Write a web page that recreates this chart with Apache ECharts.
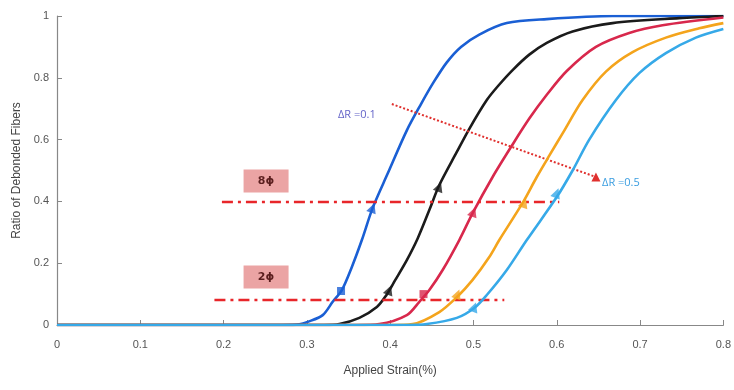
<!DOCTYPE html>
<html><head><meta charset="utf-8">
<script src="https://cdn.jsdelivr.net/npm/echarts@6/dist/echarts.min.js"></script>
<style>html,body{margin:0;padding:0;background:#fff}#c{width:734px;height:390px}</style>
</head><body><div id="c"></div>
<script>
const seriesNames = ['ΔR=0.1','ΔR=0.2','ΔR=0.3','ΔR=0.4','ΔR=0.5'];
const colors = ['#1a5fd4','#1b1b1b','#d8284c','#f4a41c','#36a9e8'];
const curveBlue = [[0,0],[0.27,0],[0.291,0.002],[0.301,0.01],[0.319,0.032],[0.331,0.075],[0.342,0.113],[0.354,0.188],[0.366,0.275],[0.379,0.379],[0.397,0.49],[0.42,0.63],[0.437,0.715],[0.452,0.785],[0.468,0.85],[0.485,0.9],[0.507,0.94],[0.54,0.977],[0.588,0.99],[0.667,1],[0.8,1]];
const curveBlack = [[0,0],[0.32,0],[0.339,0.003],[0.363,0.023],[0.384,0.058],[0.395,0.095],[0.406,0.145],[0.42,0.21],[0.433,0.28],[0.447,0.372],[0.459,0.453],[0.48,0.56],[0.495,0.635],[0.516,0.728],[0.53,0.775],[0.547,0.825],[0.567,0.875],[0.588,0.913],[0.619,0.95],[0.667,0.977],[0.747,0.993],[0.8,1]];
const curveRed = [[0,0],[0.36,0],[0.387,0.003],[0.42,0.032],[0.435,0.075],[0.447,0.113],[0.463,0.178],[0.483,0.275],[0.499,0.362],[0.523,0.479],[0.546,0.58],[0.567,0.668],[0.588,0.745],[0.612,0.822],[0.647,0.9],[0.687,0.945],[0.727,0.97],[0.8,0.995]];
const curveOrange = [[0,0],[0.40,0],[0.427,0.003],[0.459,0.042],[0.48,0.09],[0.499,0.146],[0.519,0.22],[0.531,0.275],[0.559,0.395],[0.576,0.479],[0.591,0.548],[0.607,0.62],[0.631,0.728],[0.659,0.82],[0.691,0.883],[0.731,0.93],[0.771,0.96],[0.8,0.977]];
const curveLightBlue = [[0,0],[0.42,0],[0.444,0.003],[0.48,0.023],[0.501,0.055],[0.516,0.097],[0.54,0.178],[0.564,0.275],[0.6,0.414],[0.619,0.5],[0.639,0.6],[0.671,0.728],[0.699,0.815],[0.731,0.88],[0.767,0.93],[0.8,0.958]];
const curves = [curveBlue, curveBlack, curveRed, curveOrange, curveLightBlue];
// markers on each curve: [x, y] at lower (2phi) and upper (8phi) levels
const lowerMarkers = [[0.341,0.11],[0.399,0.113],[0.44,0.10],[0.481,0.10],[0.501,0.058]];
const upperMarkers = [[0.379,0.379],[0.459,0.447],[0.5,0.366],[0.561,0.395],[0.6,0.427]];
const lowerSymbols = ['rect','triangle','rect','triangle','triangle'];
// annotation lines
const line2phi = [[0.189,0.083],[0.537,0.083]];
const line8phi = [[0.198,0.40],[0.603,0.40]];
const arrowDR = [[0.402,0.715],[0.647,0.479]];
const boxLabels = [{text:'8ϕ',at:[0.251,0.466]},{text:'2ϕ',at:[0.251,0.155]}];
const drLabels = [{text:'ΔR =0.1',at:[0.36,0.68],color:'#6464c8'},{text:'ΔR =0.5',at:[0.677,0.46],color:'#3a9de0'}];

const font = '"Liberation Sans Narrow","Liberation Sans",Arial,sans-serif';
const chart = echarts.init(document.getElementById('c'), null, {renderer:'canvas'});
const series = [];
curves.forEach((d,i)=>{
  series.push({name:seriesNames[i], type:'line', data:d, smooth:0.3, showSymbol:false,
    lineStyle:{color:colors[i], width:2.6}, itemStyle:{color:colors[i]}, z:2+i});
});
curves.forEach((d,i)=>{
  series.push({type:'scatter', data:[lowerMarkers[i]], symbol:lowerSymbols[i], symbolSize: lowerSymbols[i]==='rect'?8:10,
    symbolRotate: lowerSymbols[i]==='rect'?0:-20, itemStyle:{color:colors[i]}, z:10});
  series.push({type:'scatter', data:[upperMarkers[i]], symbol:'triangle', symbolSize:10, symbolRotate:-20,
    itemStyle:{color:colors[i]}, z:10});
});
series.push({type:'line', data:[], z:8, silent:true,
  markLine:{silent:true, symbol:['none','none'], animation:false, label:{show:false},
    data:[
      [{coord:line2phi[0]},{coord:line2phi[1]}],
      [{coord:line8phi[0]},{coord:line8phi[1]}],
      [{coord:arrowDR[0], symbol:'none'},{coord:arrowDR[1], symbol:'triangle', symbolSize:9, symbolRotate:0}]
    ].map((p,k)=>{
      const st = k<2 ? {color:'#e8262a', width:2.4, type:[11,5,3,5]} : {color:'#e0302e', width:2, type:[2,2]};
      p[0].lineStyle = st; return p;
    })
  },
  markPoint:{silent:true, animation:false, data:[
    ...boxLabels.map(b=>({coord:b.at, symbol:'rect', symbolSize:[45,23], itemStyle:{color:'#eba4a4'},
      label:{show:true, position:'inside', formatter:b.text, color:'#5a1e1e', fontSize:11, fontFamily:'"DejaVu Sans",sans-serif', fontWeight:'bold'}})),
    ...drLabels.map(b=>({coord:b.at, symbol:'circle', symbolSize:0,
      label:{show:true, position:'inside', formatter:b.text, color:b.color, fontSize:11, fontFamily:'"Open Sans",sans-serif'}}))
  ]}
});
chart.setOption({
  animation:false,
  backgroundColor:'#ffffff',
  grid:{left:57, right:10, top:16, bottom:65},
  xAxis:{type:'value', min:0, max:0.8, interval:0.1,
    name:'Applied Strain(%)', nameLocation:'middle', nameGap:40,
    nameTextStyle:{color:'#444', fontSize:12, fontFamily:font},
    axisLine:{show:true, lineStyle:{color:'#888', width:1.2}},
    axisTick:{show:true, inside:true, length:5, lineStyle:{color:'#888'}},
    axisLabel:{color:'#555', fontSize:11, fontFamily:font, margin:14},
    splitLine:{show:false}},
  yAxis:{type:'value', min:0, max:1, interval:0.2,
    name:'Ratio of Debonded Fibers', nameLocation:'middle', nameGap:32,
    nameTextStyle:{color:'#444', fontSize:12, fontFamily:font},
    axisLine:{show:true, lineStyle:{color:'#888', width:1.2}},
    axisTick:{show:true, inside:true, length:5, lineStyle:{color:'#888'}},
    axisLabel:{color:'#555', fontSize:11, fontFamily:font, margin:8},
    splitLine:{show:false}},
  series:series
});
</script></body></html>
